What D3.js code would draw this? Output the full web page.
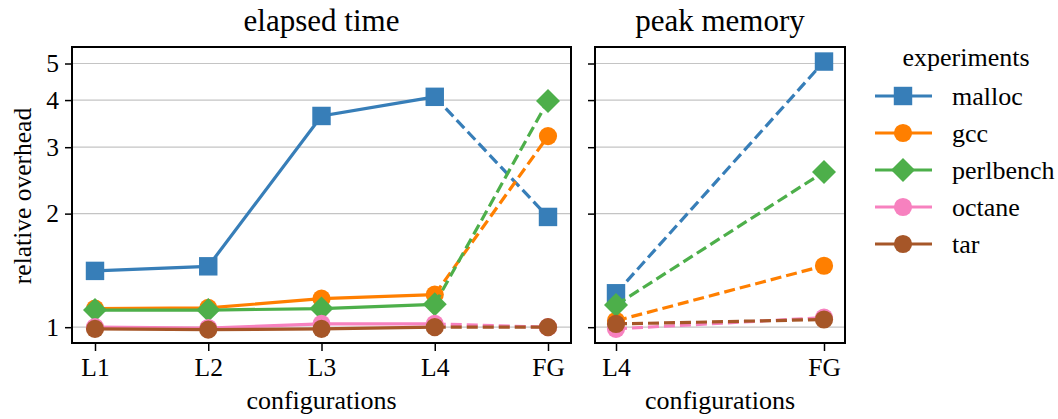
<!DOCTYPE html>
<html>
<head>
<meta charset="utf-8">
<script src="https://cdn.jsdelivr.net/npm/d3@7"></script>
<style>
  body { margin: 0; background: #fff; }
</style>
</head>
<body>
<svg id="chart" width="1058" height="419"></svg>
<script>
const configsTime = ["L1", "L2", "L3", "L4", "FG"];
const configsMem = ["L4", "FG"];
const experiments = ["malloc", "gcc", "perlbench", "octane", "tar"];
const colors = ["#377eb8", "#ff7f00", "#4daf4a", "#f781bf", "#a65628"];
const markers = ["square", "circle", "diamond", "circle", "circle"];
const yTicks = [1, 2, 3, 4, 5];

// elapsed time, L1..L4 then FG
const timeMalloc = [1.41, 1.45, 3.63, 4.08, 1.96];
const timeGcc = [1.12, 1.125, 1.19, 1.22, 3.21];
const timePerlbench = [1.11, 1.11, 1.12, 1.15, 3.98];
const timeOctane = [1.0, 0.995, 1.02, 1.02, 1.0];
const timeTar = [0.99, 0.985, 0.99, 1.0, 1.0];

// peak memory, L4 then FG
const memMalloc = [1.23, 5.06];
const memGcc = [1.04, 1.455];
const memPerlbench = [1.145, 2.58];
const memOctane = [0.99, 1.06];
const memTar = [1.02, 1.048];

const timeSeries = [timeMalloc, timeGcc, timePerlbench, timeOctane, timeTar];
const memSeries = [memMalloc, memGcc, memPerlbench, memOctane, memTar];

const svg = d3.select("#chart");

const frameTop = 47, frameBottom = 343;
const left = { x0: 72, x1: 571 };
const right = { x0: 595, x1: 845 };

const y = d3.scaleLog().domain([0.908, 5.53]).range([frameBottom, frameTop]);
const xTime = d3.scalePoint().domain(configsTime).range([95, 548]);
const xMem = d3.scalePoint().domain(configsMem).range([616, 824]);

function markerPath(kind) {
  if (kind === "square") return d3.symbol(d3.symbolSquare, 340)();
  if (kind === "circle") return d3.symbol(d3.symbolCircle, 260)();
  const r = 12; // rotated square
  return `M0,${-r}L${r},0L0,${r}L${-r},0Z`;
}

function label(sel, size) {
  return sel.attr("font-family", "Liberation Serif").attr("font-size", size).attr("fill", "#000");
}

function panel(box, x, configs, series, solidUntil, title, showYLabels) {
  const g = svg.append("g");

  // grid
  g.selectAll(".grid").data(yTicks).enter().append("line")
    .attr("x1", box.x0).attr("x2", box.x1)
    .attr("y1", d => y(d)).attr("y2", d => y(d))
    .attr("stroke", "#c4c4c4").attr("stroke-width", 1.2);

  const line = d3.line().x(d => x(d.c)).y(d => y(d.v));

  series.forEach((vals, i) => {
    const pts = vals.map((v, j) => ({ c: configs[j], v: v }));
    if (solidUntil > 0) {
      g.append("path").datum(pts.slice(0, solidUntil + 1))
        .attr("d", line).attr("fill", "none")
        .attr("stroke", colors[i]).attr("stroke-width", 3.2);
    }
    g.append("path").datum(pts.slice(solidUntil))
      .attr("d", line).attr("fill", "none")
      .attr("stroke", colors[i]).attr("stroke-width", 3.2)
      .attr("stroke-dasharray", "11,5");
    g.selectAll(null).data(pts).enter().append("path")
      .attr("transform", d => `translate(${x(d.c)},${y(d.v)})`)
      .attr("d", markerPath(markers[i]))
      .attr("fill", colors[i]);
  });

  // frame
  g.append("rect")
    .attr("x", box.x0).attr("y", frameTop)
    .attr("width", box.x1 - box.x0).attr("height", frameBottom - frameTop)
    .attr("fill", "none").attr("stroke", "#000").attr("stroke-width", 2);

  // x axis
  const xa = g.append("g").attr("transform", `translate(0,${frameBottom})`)
    .call(d3.axisBottom(x).tickSize(8).tickPadding(6));
  xa.attr("font-family", null).attr("font-size", null);
  xa.select(".domain").remove();
  xa.selectAll("line").attr("stroke", "#000").attr("stroke-width", 1.5);
  label(xa.selectAll("text"), 25.5).attr("dy", "0.75em");

  // y axis
  const ya = g.append("g").attr("transform", `translate(${box.x0},0)`)
    .call(d3.axisLeft(y).tickValues(yTicks).tickFormat(showYLabels ? d3.format("d") : () => "")
      .tickSize(7).tickPadding(6));
  ya.attr("font-family", null).attr("font-size", null);
  ya.select(".domain").remove();
  ya.selectAll("line").attr("stroke", "#000").attr("stroke-width", 1.5);
  label(ya.selectAll("text"), 25.5);

  label(g.append("text"), 31)
    .attr("x", (box.x0 + box.x1) / 2).attr("y", 31)
    .attr("text-anchor", "middle")
    .text(title);

  label(g.append("text"), 26)
    .attr("x", (box.x0 + box.x1) / 2).attr("y", 409)
    .attr("text-anchor", "middle")
    .text("configurations");
}

panel(left, xTime, configsTime, timeSeries, 3, "elapsed time", true);
panel(right, xMem, configsMem, memSeries, 0, "peak memory", false);

label(svg.append("text"), 25.5)
  .attr("transform", "translate(31,196) rotate(-90)")
  .attr("text-anchor", "middle")
  .text("relative overhead");

// legend
const legend = svg.append("g");
label(legend.append("text"), 26)
  .attr("x", 966).attr("y", 66)
  .attr("text-anchor", "middle")
  .text("experiments");

const rowY = d3.scalePoint().domain(experiments).range([96, 244]);
const items = legend.selectAll(".item").data(experiments).enter().append("g")
  .attr("transform", d => `translate(0,${rowY(d)})`);
items.append("line")
  .attr("x1", 875).attr("x2", 932).attr("y1", 0).attr("y2", 0)
  .attr("stroke", (d, i) => colors[i]).attr("stroke-width", 3.2);
items.append("path")
  .attr("transform", "translate(903,0)")
  .attr("d", (d, i) => markerPath(markers[i]))
  .attr("fill", (d, i) => colors[i]);
label(items.append("text"), 26)
  .attr("x", 952).attr("dy", "0.33em")
  .text(d => d);
</script>
</body>
</html>
